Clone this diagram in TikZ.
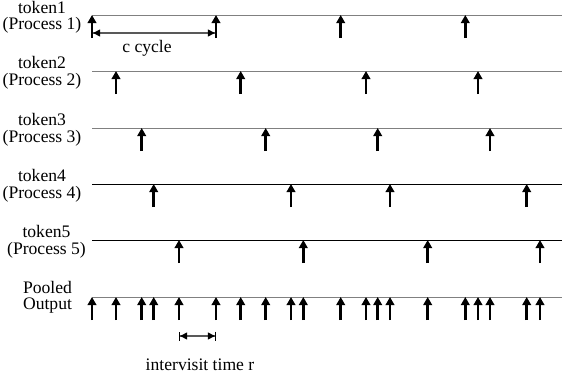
\documentclass[tikz,border=0pt]{standalone}
\usepackage{fontspec}
\setmainfont{Liberation Serif}
\usetikzlibrary{arrows.meta}
\begin{document}
\begin{tikzpicture}[x=1pt,y=-1pt,
  timeline/.style={line width=1pt,draw=#1},
  tick/.style={line width=2.8pt,-{Triangle[width=8.5pt,length=8pt]}},
  span/.style={line width=1.4pt,draw=gray!70!black,
    {Bar[width=9pt,line width=1.2pt,black]Triangle[width=7pt,length=7pt,black]}-{Triangle[width=7pt,length=7pt,black]Bar[width=9pt,line width=1.2pt,black]}},
  lbl/.style={font=\fontsize{17.6}{19}\selectfont,inner sep=0pt,anchor=center}]
\useasboundingbox (0,0) rectangle (562,378);

% time axes, one per process and one for the pooled output
\foreach \y/\c in {15/gray,71/gray,128/gray,184/black,240/black,297/gray}
  \draw[timeline=\c] (92,\y) -- (562,\y);

% row labels
\node[lbl] (t1) at (42,7) {token1};
\node[lbl] (p1) at (42,25) {(Process 1)};
\node[lbl] (t2) at (42,62) {token2};
\node[lbl] (p2) at (42,81) {(Process 2)};
\node[lbl] (t3) at (42,119) {token3};
\node[lbl] (p3) at (42,138) {(Process 3)};
\node[lbl] (t4) at (42,175) {token4};
\node[lbl] (p4) at (42,194) {(Process 4)};
\node[lbl] (t5) at (46.5,231) {token5};
\node[lbl] (p5) at (46.5,250) {(Process 5)};
\node[lbl] (po1) at (47.5,287) {Pooled};
\node[lbl] (po2) at (47.5,306) {Output};

% token arrivals per process
\foreach \x in {92,216,340.7,465.3} \draw[tick] (\x,38) -- (\x,15);
\foreach \x in {116,240.7,366,478} \draw[tick] (\x,94) -- (\x,71);
\foreach \x in {141.7,265.7,377.7,490} \draw[tick] (\x,151) -- (\x,128);
\foreach \x in {153.7,291,390,526.7} \draw[tick] (\x,207) -- (\x,184);
\foreach \x in {179,303.3,427.7,540} \draw[tick] (\x,263) -- (\x,240);

% pooled output: union of all arrivals
\foreach \x in {92,116,141.7,153.7,179,216,240.7,265.7,291,303.3,340.7,366,377.7,390,427.7,465.3,478,490,526.7,540}
  \draw[tick] (\x,320) -- (\x,297);

% cycle length and intervisit time
\coordinate (c0) at (92,33);
\coordinate (c1) at (216,33);
\draw[span] (c0) -- (c1);
\node[lbl] (cc) at (147,48) {c cycle};
\coordinate (r0) at (179,336);
\coordinate (r1) at (216,336);
\draw[span] (r0) -- (r1);
\node[lbl] (rr) at (200,365) {intervisit time r};
\end{tikzpicture}
\end{document}
